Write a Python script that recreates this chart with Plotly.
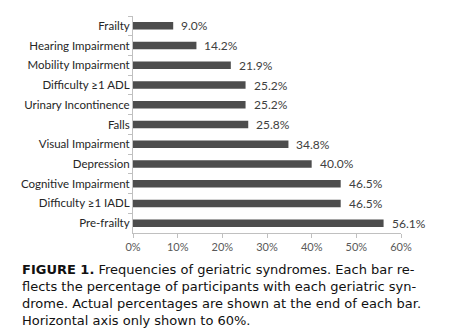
import plotly.graph_objects as go

# Geriatric syndromes, listed top to bottom
syndromes = [
    "Frailty", "Hearing Impairment", "Mobility Impairment", "Difficulty \u22651 ADL",
    "Urinary Incontinence", "Falls", "Visual Impairment", "Depression",
    "Cognitive Impairment", "Difficulty \u22651 IADL", "Pre-frailty",
]
percent = [9.0, 14.2, 21.9, 25.2, 25.2, 25.8, 34.8, 40.0, 46.5, 46.5, 56.1]
x_ticks = [0, 10, 20, 30, 40, 50, 60]

caption_lines = [
    "<b>FIGURE 1.</b> Frequencies of geriatric syndromes. Each bar re-",
    "flects the percentage of participants with each geriatric syn-",
    "drome. Actual percentages are shown at the end of each bar.",
    "Horizontal axis only shown to 60%.",
]

W, H = 473, 335
ML, MR, MT, MB = 133, 72, 16, 102

fig = go.Figure(
    go.Bar(
        x=percent,
        y=syndromes,
        orientation="h",
        marker=dict(color="#4d4d4d", line=dict(width=0)),
        width=0.38,
        hoverinfo="skip",
    )
)

# value labels at the end of each bar
for s, v in zip(syndromes, percent):
    fig.add_annotation(
        x=v, y=s, xref="x", yref="y", text=f"{v:.1f}%",
        showarrow=False, xanchor="left", xshift=6,
        font=dict(family="Lato", size=12, color="#404040"),
    )

# caption below the chart, positioned in pixels and mapped to paper units
plot_w = W - ML - MR
plot_h = H - MT - MB
cap_x, cap_y = 20, 295
fig.add_annotation(
    x=(cap_x - ML) / plot_w, y=(H - MB - cap_y) / plot_h,
    xref="paper", yref="paper", text="<br>".join(caption_lines),
    showarrow=False, xanchor="left", yanchor="middle", align="left",
    font=dict(family="DejaVu Sans", size=13, color="#111111"),
)

fig.update_layout(
    width=W, height=H,
    margin=dict(l=ML, r=MR, t=MT, b=MB),
    paper_bgcolor="white", plot_bgcolor="white",
    showlegend=False,
    xaxis=dict(
        range=[0, 60], tickvals=x_ticks, ticktext=[f"{t}%" for t in x_ticks],
        showgrid=False, zeroline=False, showline=True, linecolor="#c0c0c0",
        ticks="outside", ticklen=4, tickcolor="#c0c0c0",
        tickfont=dict(family="Lato", size=11, color="#595959"),
    ),
    yaxis=dict(
        categoryorder="array", categoryarray=syndromes, autorange="reversed",
        showgrid=False, zeroline=False, showline=True, linecolor="#c0c0c0",
        ticks="outside", ticklen=4, tickcolor="#c0c0c0", tickson="boundaries",
        tickfont=dict(family="Lato", size=11.5, color="#262626"),
    ),
)

fig.write_html("out.html")
